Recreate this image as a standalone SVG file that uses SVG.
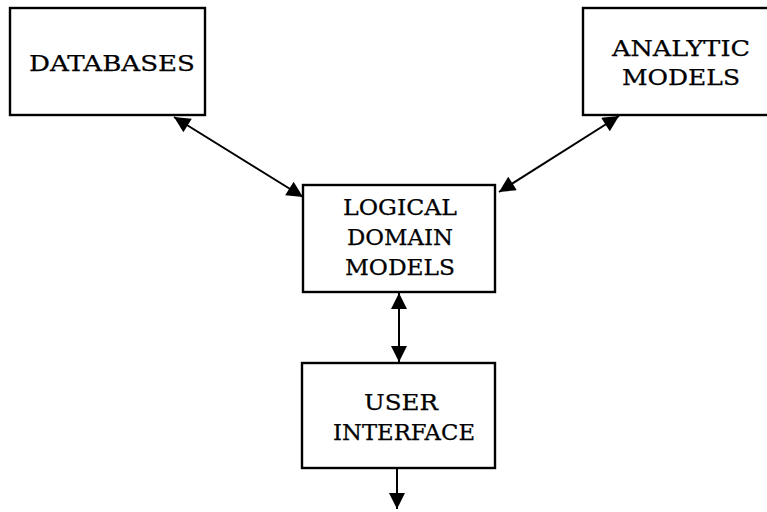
<svg xmlns="http://www.w3.org/2000/svg" width="767" height="512" viewBox="0 0 767 512">
<defs>
<marker id="ah" viewBox="0 0 10 10" refX="10" refY="5" markerWidth="8.5" markerHeight="8" markerUnits="strokeWidth" orient="auto-start-reverse">
<path d="M0,0 L10,5 L0,10 z" fill="#000"/>
</marker>
<style>
.box{fill:#fff;stroke:#000;stroke-width:2.4}
.t{font-family:"DejaVu Serif","Liberation Serif",serif;font-size:22px;fill:#000;stroke:#000;stroke-width:0.25;text-anchor:middle}
.c{stroke:#000;stroke-width:2;fill:none;marker-start:url(#ah);marker-end:url(#ah)}
.c1{stroke:#000;stroke-width:2;fill:none;marker-end:url(#ah)}
</style>
</defs>
<rect width="767" height="512" fill="#fff"/>
<g id="connectors">
<line class="c" x1="174" y1="117" x2="303" y2="197"/>
<line class="c" x1="619" y1="116" x2="499" y2="192"/>
<line class="c" x1="399" y1="293" x2="399" y2="362"/>
<line class="c1" x1="397" y1="469" x2="397" y2="509"/>
</g>
<g id="databases">
<rect class="box" x="10" y="8" width="195" height="107"/>
<text class="t" x="112" y="71" textLength="166" lengthAdjust="spacingAndGlyphs">DATABASES</text>
</g>
<g id="analytic">
<rect class="box" x="583" y="8" width="190" height="107"/>
<text class="t" x="681" y="56" textLength="138" lengthAdjust="spacingAndGlyphs">ANALYTIC</text>
<text class="t" x="681" y="85" textLength="118" lengthAdjust="spacingAndGlyphs">MODELS</text>
</g>
<g id="logical">
<rect class="box" x="303" y="185" width="192" height="107"/>
<text class="t" x="400" y="215" textLength="114" lengthAdjust="spacingAndGlyphs">LOGICAL</text>
<text class="t" x="400" y="245" textLength="106" lengthAdjust="spacingAndGlyphs">DOMAIN</text>
<text class="t" x="400" y="275" textLength="110" lengthAdjust="spacingAndGlyphs">MODELS</text>
</g>
<g id="ui">
<rect class="box" x="302" y="363" width="193" height="105"/>
<text class="t" x="401" y="410" textLength="74" lengthAdjust="spacingAndGlyphs">USER</text>
<text class="t" x="404" y="440" textLength="142" lengthAdjust="spacingAndGlyphs">INTERFACE</text>
</g>
</svg>
